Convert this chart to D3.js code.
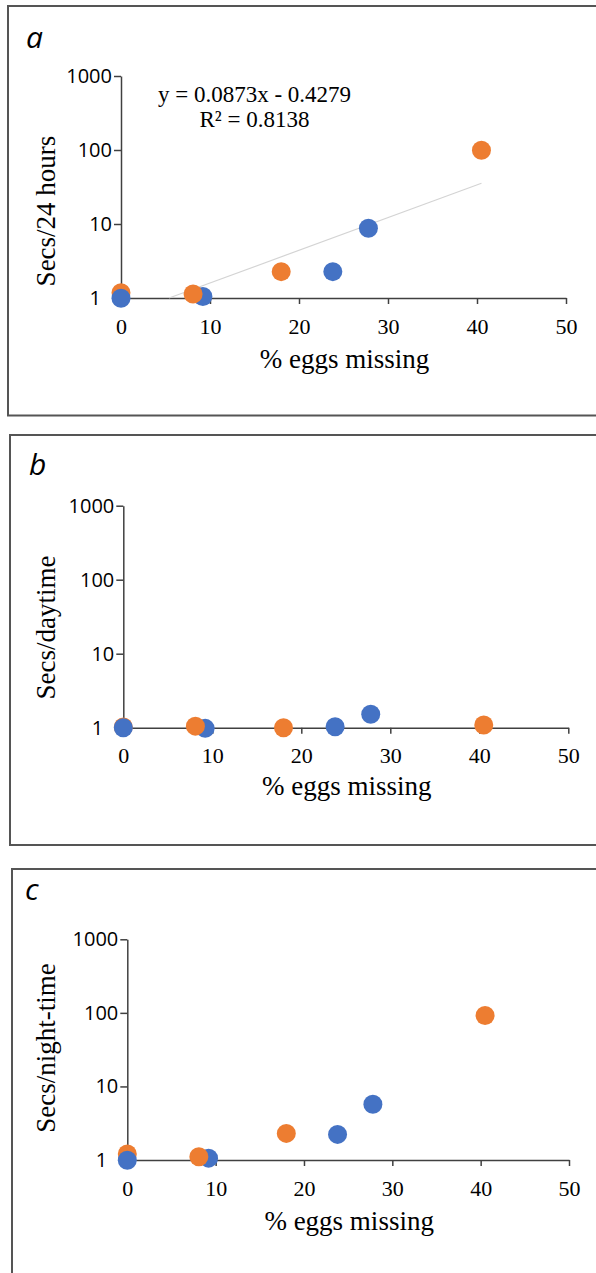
<!DOCTYPE html>
<html>
<head>
<meta charset="utf-8">
<script src="https://cdn.jsdelivr.net/npm/d3@7"></script>
<style>
  body { margin: 0; background: #fff; }
  svg { display: block; }
</style>
</head>
<body>
<svg id="chart" width="596" height="1273"></svg>
<script>
// x values (% eggs missing) for the two series
const orangeX = [0, 8.1, 18, 40.5];
const blueX = [0, 9.2, 23.8, 27.8];

// y values per panel (secs)
const orangeA = [1.18, 1.13, 2.27, 99];
const blueA = [0.99, 1.05, 2.27, 8.75];
const orangeB = [1.02, 1.05, 1.0, 1.09];
const blueB = [1.0, 0.98, 1.03, 1.52];
const orangeC = [1.21, 1.11, 2.3, 92];
const blueC = [0.99, 1.06, 2.23, 5.74];

// trendline in panel a (start / end)
const trendX = [5.4, 40.5];
const trendY = [1, 35.5];

const xTicks = [0, 10, 20, 30, 40, 50];
const yTicks = [1, 10, 100, 1000];

const panelLetters = ["a", "b", "c"];
const yTitles = ["Secs/24 hours", "Secs/daytime", "Secs/night-time"];
const xTitle = "% eggs missing";
const eqLines = ["y = 0.0873x - 0.4279", "R\u00B2 = 0.8138"];

const BLUE = "#4472C4";
const ORANGE = "#ED7D31";
const SERIF = "'Liberation Serif', 'Times New Roman', serif";
const SANS = "'Open Sans', 'Noto Sans', sans-serif";

const svg = d3.select("#chart");
svg.append("rect").attr("width", 596).attr("height", 1273).attr("fill", "#fff");

// layout of each panel (frame, plot area, label spots)
const layout = [
  { fx: 8, fy: 6, fh: 409.5, x0: 121, x1: 566, yTop: 76, yBot: 298, lx: 26, ly: 48, ytY: 211, xtDy: 70 },
  { fx: 10, fy: 435, fh: 410, x0: 123.3, x1: 568.3, yTop: 505.7, yBot: 727.7, lx: 29, ly: 475, ytY: 627.5, xtDy: 67.5 },
  { fx: 12, fy: 869, fh: 500, x0: 127.3, x1: 569, yTop: 939.3, yBot: 1160, lx: 25, ly: 900, ytY: 1048, xtDy: 70 }
];

const panelData = [
  { orange: orangeA, blue: blueA },
  { orange: orangeB, blue: blueB },
  { orange: orangeC, blue: blueC }
];

layout.forEach((L, i) => {
  const g = svg.append("g");

  // panel frame (runs off the right / bottom edge like the source)
  g.append("rect")
    .attr("x", L.fx).attr("y", L.fy)
    .attr("width", 700).attr("height", L.fh)
    .attr("fill", "none").attr("stroke", "#555").attr("stroke-width", 2);

  g.append("text")
    .attr("x", L.lx).attr("y", L.ly)
    .attr("font-family", SANS).attr("font-style", "italic")
    .attr("font-size", 30).attr("fill", "#000")
    .text(panelLetters[i]);

  const x = d3.scaleLinear().domain([0, 50]).range([L.x0, L.x1]);
  const y = d3.scaleLog().domain([1, 1000]).range([L.yBot, L.yTop]);

  // y axis
  const yAxis = g.append("g")
    .attr("transform", `translate(${L.x0},0)`)
    .call(d3.axisLeft(y).tickValues(yTicks).tickFormat(d3.format("d"))
      .tickSize(7).tickPadding(2).tickSizeOuter(0));
  yAxis.select(".domain").attr("stroke", "#404040").attr("stroke-width", 1.5);
  yAxis.selectAll(".tick line").attr("stroke", "#404040").attr("stroke-width", 1.5)
    .filter(d => d === 1).remove();
  yAxis.selectAll(".tick text")
    .attr("font-family", SANS).attr("font-size", 20).attr("fill", "#000")
    .attr("dx", d => d === 1 ? -11 : 0);

  // x axis
  const xAxis = g.append("g")
    .attr("transform", `translate(0,${L.yBot})`)
    .call(d3.axisBottom(x).tickValues(xTicks).tickFormat(d3.format("d"))
      .tickSize(6).tickPadding(14).tickSizeOuter(0));
  xAxis.select(".domain").attr("stroke", "#404040").attr("stroke-width", 1.5);
  xAxis.selectAll(".tick line").attr("stroke", "#404040").attr("stroke-width", 1.5);
  xAxis.selectAll(".tick text")
    .attr("font-family", SERIF).attr("font-size", 22).attr("fill", "#000");

  // axis titles
  g.append("text")
    .attr("x", (L.x0 + L.x1) / 2 + 1).attr("y", L.yBot + L.xtDy)
    .attr("text-anchor", "middle")
    .attr("font-family", SERIF).attr("font-size", 27).attr("fill", "#000")
    .text(xTitle);

  g.append("text")
    .attr("transform", `translate(55,${L.ytY}) rotate(-90)`)
    .attr("text-anchor", "middle")
    .attr("font-family", SERIF).attr("font-size", 27).attr("fill", "#000")
    .text(yTitles[i]);

  // trendline + equation only on panel a
  if (i === 0) {
    g.append("line")
      .attr("x1", x(trendX[0])).attr("y1", y(trendY[0]))
      .attr("x2", x(trendX[1])).attr("y2", y(trendY[1]))
      .attr("stroke", "#d4d4d4").attr("stroke-width", 1.2);

    g.selectAll(".eq")
      .data(eqLines)
      .enter().append("text")
      .attr("class", "eq")
      .attr("x", 254.5)
      .attr("y", (d, k) => 102 + k * 25)
      .attr("text-anchor", "middle")
      .attr("font-family", SERIF).attr("font-size", 23).attr("fill", "#000")
      .text(d => d);
  }

  // points: first orange point sits under the blue series, the rest on top
  const D = panelData[i];
  const orangePts = orangeX.map((v, k) => ({ x: v, y: D.orange[k], c: ORANGE }));
  const bluePts = blueX.map((v, k) => ({ x: v, y: D.blue[k], c: BLUE }));
  const pts = [orangePts[0], ...bluePts, ...orangePts.slice(1)];

  g.selectAll(".pt")
    .data(pts)
    .enter().append("circle")
    .attr("class", "pt")
    .attr("cx", d => x(d.x))
    .attr("cy", d => y(d.y))
    .attr("r", 9.5)
    .attr("fill", d => d.c);
});
</script>
</body>
</html>
